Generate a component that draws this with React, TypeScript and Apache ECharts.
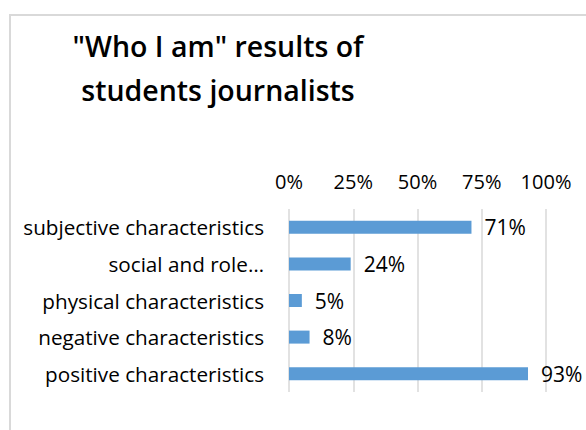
import React, { useEffect, useRef } from "react";
import * as echarts from "echarts";

const categories = [
  "subjective characteristics",
  "social and role…",
  "physical characteristics",
  "negative characteristics",
  "positive characteristics",
];
const values = [71, 24, 5, 8, 93];
const titleLines = ["\"Who I am\" results of", "students journalists"];

const FONT = "'Open Sans'";

export default function App() {
  const ref = useRef<HTMLDivElement>(null);
  useEffect(() => {
    const chart = echarts.init(ref.current!, null, { renderer: "svg" });
    chart.setOption({
      animation: false,
      backgroundColor: "#ffffff",
      graphic: [
        {
          type: "rect",
          shape: { x: 10, y: 15, width: 600, height: 440 },
          style: { fill: "none", stroke: "#d9d9d9", lineWidth: 2 },
          silent: true,
        },
        {
          type: "text",
          x: 218,
          y: 46,
          style: {
            text: titleLines[0],
            font: "600 28.5px 'Open Sans'",
            fill: "#000",
            align: "center",
            verticalAlign: "middle",
          },
        },
        {
          type: "text",
          x: 218,
          y: 90,
          style: {
            text: titleLines[1],
            font: "600 28.5px 'Open Sans'",
            fill: "#000",
            align: "center",
            verticalAlign: "middle",
          },
        },
      ],
      grid: { left: 289, right: 40, top: 209, bottom: 38, containLabel: false },
      xAxis: {
        type: "value",
        position: "top",
        min: 0,
        max: 100,
        interval: 25,
        axisLine: { show: false },
        axisTick: { show: false },
        axisLabel: {
          formatter: "{value}%",
          fontFamily: FONT,
          fontSize: 20,
          color: "#000",
          margin: 18,
        },
        splitLine: { lineStyle: { color: "#d9d9d9", width: 1.5 } },
      },
      yAxis: {
        type: "category",
        inverse: true,
        data: categories,
        axisLine: { show: false },
        axisTick: { show: false },
        axisLabel: {
          fontFamily: FONT,
          fontSize: 20.7,
          color: "#000",
          margin: 25,
        },
      },
      series: [
        {
          type: "bar",
          data: values,
          barWidth: 13,
          itemStyle: { color: "#5b9bd5" },
          label: {
            show: true,
            position: "right",
            distance: 13,
            formatter: "{c}%",
            fontFamily: FONT,
            fontSize: 21,
            color: "#000",
          },
        },
      ],
    });
    return () => chart.dispose();
  }, []);
  return (
    <div
      ref={ref}
      style={{ position: "absolute", left: 0, top: 0, width: 586, height: 430 }}
    />
  );
}
